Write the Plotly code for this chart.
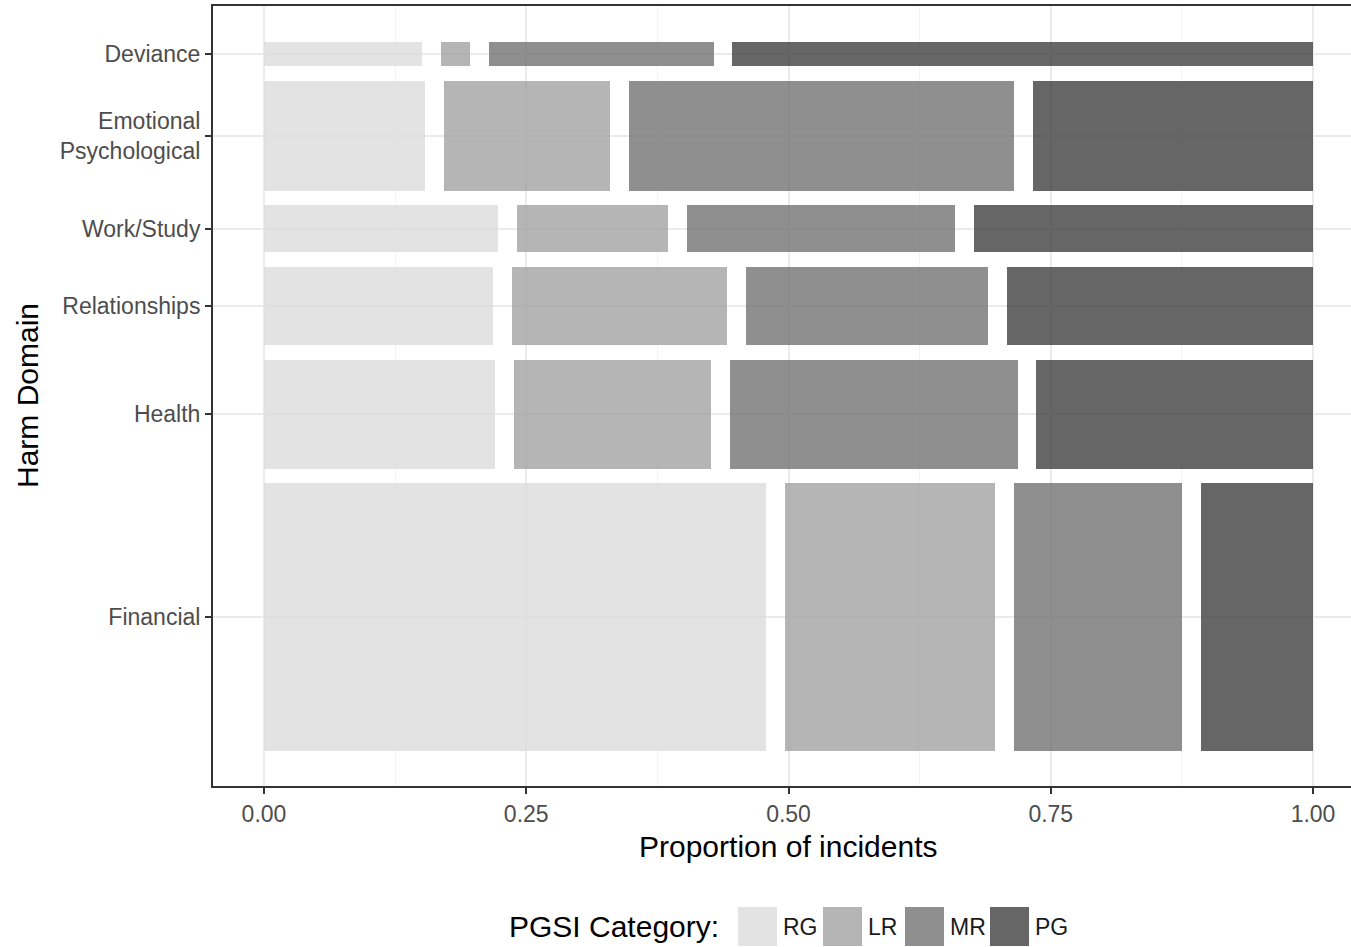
import plotly.graph_objects as go

# ---------------- data ----------------
domains = ["Financial", "Health", "Relationships", "Work/Study",
           "Emotional<br>Psychological", "Deviance"]
domain_share = [0.421, 0.171, 0.123, 0.074, 0.173, 0.038]
categories = ["RG", "LR", "MR", "PG"]
rg = [0.506, 0.233, 0.231, 0.236, 0.162, 0.159]
lr = [0.212, 0.199, 0.217, 0.152, 0.167, 0.030]
mr = [0.169, 0.290, 0.244, 0.270, 0.388, 0.226]
pg = [0.113, 0.279, 0.308, 0.342, 0.282, 0.585]
x_ticks = [0.0, 0.25, 0.5, 0.75, 1.0]
x_tick_labels = ["0.00", "0.25", "0.50", "0.75", "1.00"]

# ---------------- style ----------------
FONT = "Liberation Sans, Arial, Helvetica, sans-serif"
fills = ["rgba(220,220,220,0.8)", "rgba(162,162,162,0.8)",
         "rgba(115,115,115,0.8)", "rgba(64,64,64,0.8)"]
key_colors = ["#e3e3e3", "#b5b5b5", "#8f8f8f", "#666666"]
GAP_X = 0.018
GAP_Y = 0.0205
W, H = 1351, 947
ML, MR_, MT, MB = 213, 0, 6, 161
X_RANGE = [-0.0486, 1.0362]
Y_RANGE = [-0.0494, 1.0508]

# ---------------- mosaic geometry (computed from data) ----------------
series = [rg, lr, mr, pg]
n_rows = len(domains)
avail_y = 1 - GAP_Y * (n_rows - 1)
share_tot = sum(domain_share)
heights, centers = [], []
y = 0.0
for s in domain_share:
    h = s / share_tot * avail_y
    heights.append(h)
    centers.append(y + h / 2)
    y += h + GAP_Y

avail_x = 1 - GAP_X * (len(categories) - 1)
lefts = [[0] * n_rows for _ in categories]
widths = [[0] * n_rows for _ in categories]
for r in range(n_rows):
    tot = sum(s[r] for s in series)
    x = 0.0
    for c, s in enumerate(series):
        w = s[r] / tot * avail_x
        lefts[c][r] = x
        widths[c][r] = w
        x += w + GAP_X

fig = go.Figure()
for c, cat in enumerate(categories):
    fig.add_trace(go.Bar(
        orientation="h", name=cat, y=centers, x=widths[c], base=lefts[c],
        width=heights, marker=dict(color=fills[c], line=dict(width=0)),
        showlegend=False, hoverinfo="name+x"))

plot_w = W - ML - MR_
plot_h = H - MT - MB


def px_x(px):
    return (px - ML) / plot_w


def px_y(py):
    return (H - MB - py) / plot_h


shapes = []
annotations = []
# legend drawn by hand to get ggplot-sized keys
key_left = [738, 823, 905, 990]
KEY = 39
key_top = 907
for c, cat in enumerate(categories):
    shapes.append(dict(type="rect", xref="paper", yref="paper",
                       x0=px_x(key_left[c]), x1=px_x(key_left[c] + KEY),
                       y0=px_y(key_top + KEY), y1=px_y(key_top),
                       fillcolor=key_colors[c], line=dict(width=0)))
    annotations.append(dict(text=cat, xref="paper", yref="paper",
                            x=px_x(key_left[c] + KEY + 4), y=px_y(key_top + KEY / 2),
                            xanchor="left", yanchor="middle", showarrow=False,
                            font=dict(family=FONT, size=23, color="#1a1a1a")))
annotations.append(dict(text="PGSI Category:", xref="paper", yref="paper",
                        x=px_x(721), y=px_y(key_top + KEY / 2),
                        xanchor="right", yanchor="middle", showarrow=False,
                        font=dict(family=FONT, size=30, color="#000000")))
annotations.append(dict(text="Proportion of incidents", xref="x", yref="paper",
                        x=0.5, y=px_y(846), xanchor="center", yanchor="middle",
                        showarrow=False, font=dict(family=FONT, size=30, color="#000000")))
annotations.append(dict(text="Harm Domain", xref="paper", yref="paper",
                        x=px_x(27), y=0.5, xanchor="center", yanchor="middle",
                        textangle=-90, showarrow=False,
                        font=dict(family=FONT, size=30, color="#000000")))

fig.update_layout(
    width=W, height=H, autosize=False,
    margin=dict(l=ML, r=MR_, t=MT, b=MB, pad=0),
    paper_bgcolor="white", plot_bgcolor="white",
    barmode="overlay", bargap=0,
    font=dict(family=FONT),
    shapes=shapes, annotations=annotations,
    xaxis=dict(range=X_RANGE, tickvals=x_ticks, ticktext=x_tick_labels,
               showgrid=True, gridcolor="#ebebeb", gridwidth=1.5,
               minor=dict(dtick=0.125, tick0=0, showgrid=True,
                          gridcolor="#f3f3f3", gridwidth=1),
               zeroline=False, showline=True, linecolor="#333333", linewidth=2,
               mirror=True, ticks="outside", ticklen=6, tickwidth=2,
               tickcolor="#333333",
               tickfont=dict(family=FONT, size=23, color="#4d4d4d")),
    yaxis=dict(range=Y_RANGE, tickvals=centers, ticktext=domains,
               showgrid=True, gridcolor="#ebebeb", gridwidth=1.5,
               zeroline=False, showline=True, linecolor="#333333", linewidth=2,
               ticks="outside", ticklen=6, tickwidth=2, tickcolor="#333333",
               tickfont=dict(family=FONT, size=23, color="#4d4d4d")),
)

fig.write_html("out.html")
